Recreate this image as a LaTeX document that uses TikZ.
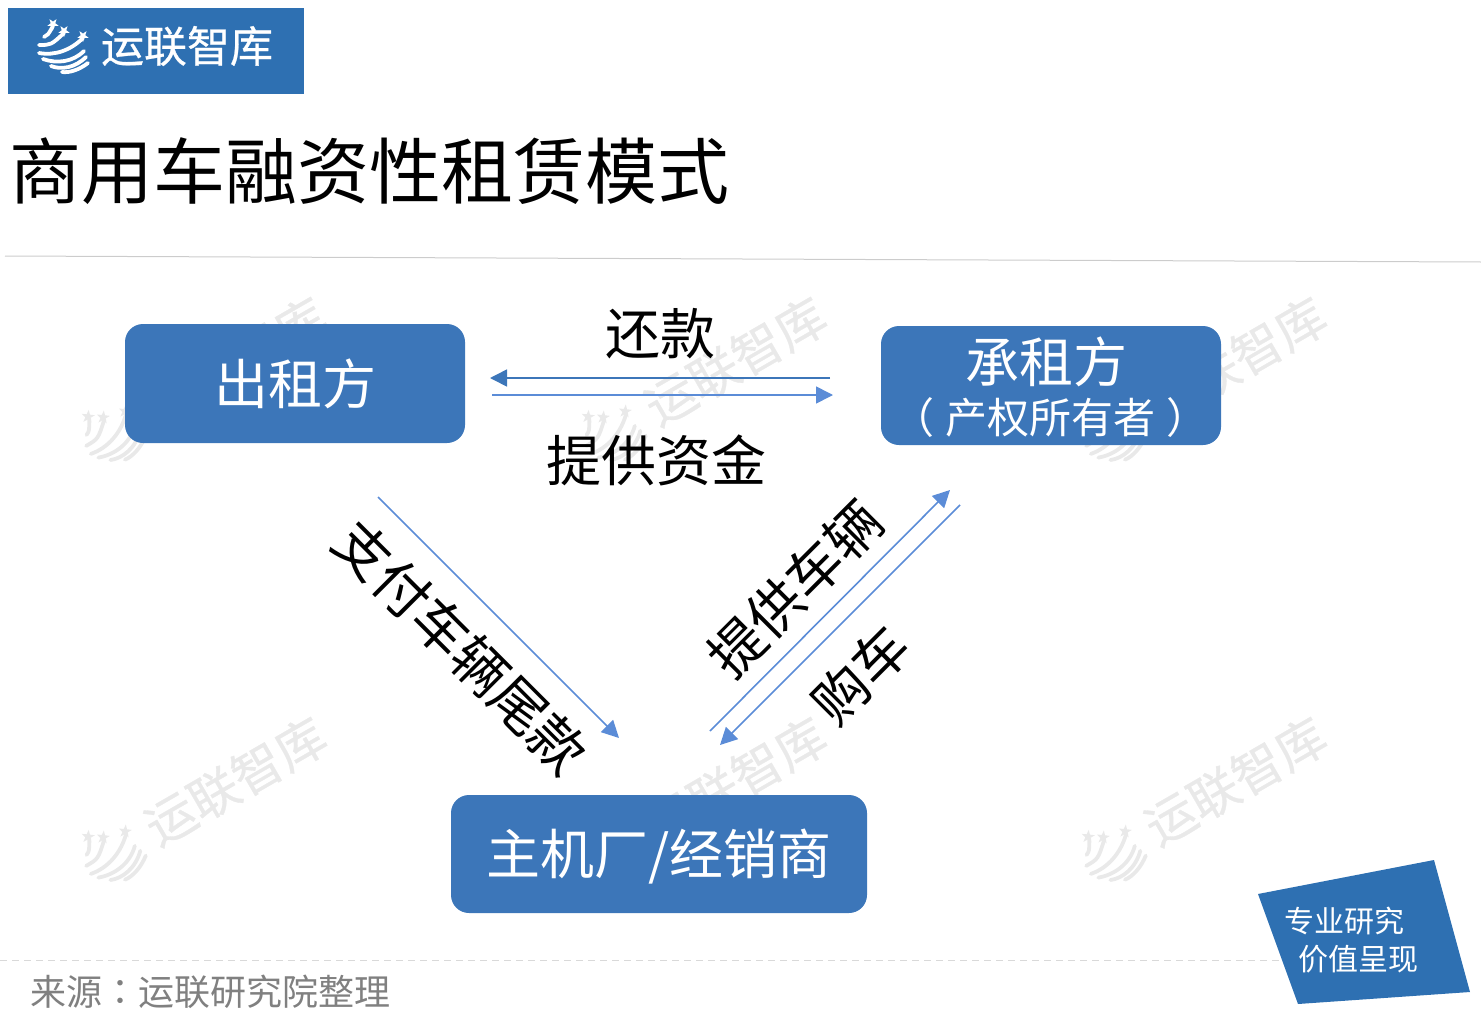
\documentclass[tikz,border=0pt]{standalone}
\usepackage{fontspec}
\setmainfont{Noto Sans CJK SC}
\newfontfamily\tcfont{Noto Sans CJK TC}
\newfontfamily\brandfont[FakeBold=0.6]{Noto Sans CJK SC}
\usetikzlibrary{arrows.meta}

\definecolor{boxblue}{HTML}{3C76B9}
\definecolor{brandblue}{HTML}{2E70B2}
\definecolor{linkblue}{HTML}{5B8CD7}
\definecolor{markgray}{HTML}{E9E9E9}

\newcommand{\pxfont}[1]{\fontsize{#1}{#1}\selectfont}
\newcommand{\logostar}[2]{\fill [shift={(#1,#2)}] (90:6) -- (126:2.4) -- (162:6) -- (198:2.4) -- (234:6) -- (270:2.4) -- (306:6) -- (342:2.4) -- (18:6) -- (54:2.4) -- cycle;}
% globe and company name, origin at the middle of the globe
\newcommand{\brandlogo}[1]{
	\begin{scope}[#1, line width=3.8pt, line cap=round]
		\draw (-19,-11) .. controls (-15,-13) .. (-10,-22);
		\draw (-24,-3) .. controls (-12,-3) .. (1,-15);
		\draw (-24,5) .. controls (-8,8) and (8,2) .. (20,-10);
		\draw (-20,11) .. controls (-6,16) and (10,14) .. (21,3);
		\draw (-12,18) .. controls (-2,22) and (12,20) .. (23,9);
		\draw (-1,24) .. controls (6,25) and (16,22) .. (25,15);
		\logostar{-10}{-24}
		\logostar{1}{-17}
		\logostar{20}{-12}
		\node [text=., font=\brandfont\pxfont{43}] at (124,-2) (brand#1) {运联智库};
	\end{scope}
}
\newcommand{\watermark}[2]{
	\begin{scope}[shift={(#1,#2)}, rotate=30, scale=1.16, transform shape]
		\brandlogo{markgray}
	\end{scope}
}

\tikzset{
	partybox/.style={draw=none, fill=boxblue, rounded corners=18pt, text=white, inner sep=0pt, align=center},
	flowlabel/.style={inner sep=0pt, font=\pxfont{55}},
	flow/.style={draw=linkblue, line width=1.6pt, -{Triangle[length=17pt,width=17pt]}},
}

\begin{document}
\begin{tikzpicture}[x=1pt, y=-1pt]
	\useasboundingbox (0,0) rectangle (1481,1017);

	% watermarks
	\watermark{112}{855}
	\watermark{612}{855}
	\watermark{1112}{855}
	\watermark{112}{435}
	\watermark{612}{435}
	\watermark{1112}{435}

	% header
	\node [fill=brandblue, minimum width=296pt, minimum height=86pt, inner sep=0pt] at (156,51) (header) {};
	\begin{scope}[shift={(63,48)}]
		\brandlogo{white}
	\end{scope}
	\node [anchor=west, inner sep=0pt, font=\pxfont{72}] at (9,171) (title) {商用车融资性租赁模式};
	\coordinate (ruleleft) at (5,256);
	\coordinate (ruleright) at (1481,262);
	\draw [black!20, line width=1pt] (ruleleft) -- (ruleright);

	% parties
	\node [partybox, minimum width=340pt, minimum height=119pt, font=\pxfont{54}] at (295,383.5) (lessor) {出租方};
	\node [partybox, minimum width=340pt, minimum height=119pt] at (1051,385.5) (lessee) {};
	\node [inner sep=0pt, text=white, font=\pxfont{54}] at (1046,362) (lesseename) {承租方};
	\node [inner sep=0pt, text=white, font=\pxfont{42}] at (1050,418) (lesseenote) {{\tcfont （}\hspace{11pt}产权所有者\hspace{11pt}{\tcfont ）}};
	\node [partybox, minimum width=416pt, minimum height=118pt] at (659,854) (dealer) {};
	\node [inner sep=0pt, text=white, font=\pxfont{54}] at (659,857) (dealername) {主机厂/经销商};

	% ends of the links
	\coordinate (repayfrom) at (830,378);
	\coordinate (repayto) at (490,378);
	\coordinate (fundfrom) at (492,395);
	\coordinate (fundto) at (833,395);
	\coordinate (balancefrom) at (378,497);
	\coordinate (balanceto) at (619,738);
	\coordinate (supplyfrom) at (710,731);
	\coordinate (supplyto) at (950,490);
	\coordinate (buyfrom) at (960,505);
	\coordinate (buyto) at (720,745);

	\draw [flow, draw=boxblue, -{Triangle[length=17pt,width=17pt,fill=boxblue]}] (repayfrom) -- (repayto);
	\draw [flow, -{Triangle[length=17pt,width=17pt,fill=linkblue]}] (fundfrom) -- (fundto);
	\draw [flow] (balancefrom) -- (balanceto);
	\draw [flow] (supplyfrom) -- (supplyto);
	\draw [flow] (buyfrom) -- (buyto);

	% link labels
	\node [flowlabel] at (660,334) (repay) {还款};
	\node [flowlabel] at (656,460) (fund) {提供资金};
	\node [flowlabel, rotate=-45] at (461,647) (balance) {支付车辆尾款};
	\node [flowlabel, rotate=45] at (795,589) (supply) {提供车辆};
	\node [flowlabel, rotate=45] at (861,675) (buy) {购车};

	% footer
	\coordinate (footleft) at (0,960);
	\coordinate (footright) at (1290,960);
	\draw [black!15, line width=1pt, dash pattern=on 7pt off 5pt] (footleft) -- (footright);
	\node [anchor=west, inner sep=0pt, text=black!50, font=\pxfont{36}] at (30,992) (source) {来源{\tcfont ：}运联研究院整理};
	\fill [brandblue] (1258,894) -- (1434,860) -- (1470,992) -- (1298,1004) -- cycle;
	\node [inner sep=0pt, text=white, font=\pxfont{30}] at (1344,921) (mottoa) {专业研究};
	\node [inner sep=0pt, text=white, font=\pxfont{30}] at (1358,959) (mottob) {价值呈现};
\end{tikzpicture}
\end{document}
